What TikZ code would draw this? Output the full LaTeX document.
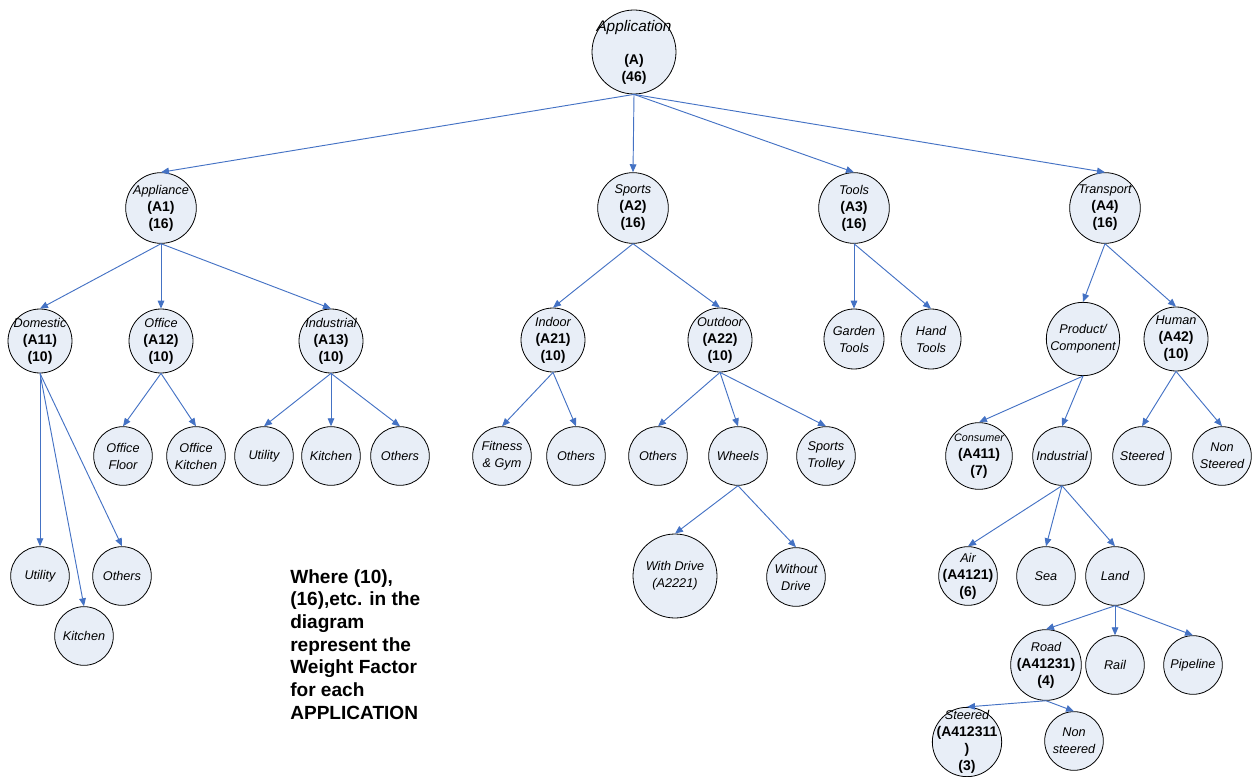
\documentclass[tikz,border=0pt]{standalone}
\usepackage{fontspec}
\setmainfont{Liberation Sans}
\usetikzlibrary{arrows.meta}
\definecolor{link}{HTML}{4472C4}
\definecolor{pale}{HTML}{E8EEF7}
\newcommand\wt[1]{{\upshape\bfseries\fontsize{10.5}{12.75}\selectfont #1}}
\begin{document}
\begin{tikzpicture}[x=0.75pt,y=-0.75pt,>={Triangle[length=6pt,width=5pt]},
 n/.style={circle,draw=black,fill=pale,line width=.6pt,inner sep=0pt,minimum size=#1},n/.default=44pt,
 t/.style={align=center,font=\fontsize{9.5}{12.75}\selectfont\itshape},
 a/.style={->,draw=link,line width=.7pt},
 note/.style={align=left,inner sep=0pt,font=\fontsize{14.3}{17}\selectfont\bfseries}]
\useasboundingbox (0,0) rectangle (1253,777);
% root and first level
\node[n=63pt,label={[t]center:{\fontsize{11.5}{12.75}\selectfont Application}\\[12pt]\wt{(A)}\\\wt{(46)}}] (app) at (634,52) {};
\node[n=53pt,label={[t]center:Appliance\\\wt{(A1)}\\\wt{(16)}}] (a1) at (161,208) {};
\node[n=53pt,label={[t]center:Sports\\\wt{(A2)}\\\wt{(16)}}] (a2) at (633,208) {};
\node[n=53pt,label={[t]center:Tools\\\wt{(A3)}\\\wt{(16)}}] (a3) at (854,208) {};
\node[n=53pt,label={[t]center:Transport\\\wt{(A4)}\\\wt{(16)}}] (a4) at (1105,208) {};
% second level
\node[n=48pt,label={[t]center:Domestic\\\wt{(A11)}\\\wt{(10)}}] (a11) at (40,341) {};
\node[n=48pt,label={[t]center:Office\\\wt{(A12)}\\\wt{(10)}}] (a12) at (161,341) {};
\node[n=48pt,label={[t]center:Industrial\\\wt{(A13)}\\\wt{(10)}}] (a13) at (331,341) {};
\node[n=48pt,label={[t]center:Indoor\\\wt{(A21)}\\\wt{(10)}}] (a21) at (553,340) {};
\node[n=48pt,label={[t]center:Outdoor\\\wt{(A22)}\\\wt{(10)}}] (a22) at (720,340) {};
\node[n=45pt,label={[t]center:Garden\\Tools}] (garden) at (854,339) {};
\node[n=45pt,label={[t]center:Hand\\Tools}] (hand) at (931,339) {};
\node[n=55pt,label={[t]center:Product/\\Component}] (prod) at (1083,339) {};
\node[n=48pt,label={[t]center:Human\\\wt{(A42)}\\\wt{(10)}}] (a42) at (1176,339) {};
% third level
\node[n,label={[t]center:Office\\Floor}] (ofloor) at (123,456) {};
\node[n,label={[t]center:Office\\Kitchen}] (okit) at (196,456) {};
\node[n,label={[t]center:Utility}] (iutil) at (264,456) {};
\node[n,label={[t]center:Kitchen}] (ikit) at (331,456) {};
\node[n,label={[t]center:Others}] (ioth) at (400,456) {};
\node[n,label={[t]center:Fitness\\\& Gym}] (fit) at (502,456) {};
\node[n,label={[t]center:Others}] (inoth) at (576,456) {};
\node[n,label={[t]center:Others}] (outoth) at (658,456) {};
\node[n,label={[t]center:Wheels}] (wheels) at (738,456) {};
\node[n,label={[t]center:Sports\\Trolley}] (trolley) at (826,456) {};
\node[n=50pt,label={[t]center:{\fontsize{8.1}{12.75}\selectfont Consumer}\\\wt{(A411)}\\\wt{(7)}}] (a411) at (979,456) {};
\node[n,label={[t]center:Industrial}] (tind) at (1062,456) {};
\node[n,label={[t]center:Steered}] (hst) at (1142,456) {};
\node[n,label={[t]center:Non\\Steered}] (hnst) at (1222,456) {};
% lower levels
\node[n,label={[t]center:Utility}] (dutil) at (40,576) {};
\node[n,label={[t]center:Others}] (doth) at (122,576) {};
\node[n,label={[t]center:Kitchen}] (dkit) at (84,636) {};
\node[n=63pt,label={[t]center:With Drive\\(A2221)}] (a2221) at (675,576) {};
\node[n,label={[t]center:Without\\Drive}] (nodrive) at (796,577) {};
\node[n,label={[t]center:Air\\\wt{(A4121)}\\\wt{(6)}}] (a4121) at (968,576) {};
\node[n,label={[t]center:Sea}] (sea) at (1046,576) {};
\node[n,label={[t]center:Land}] (land) at (1115,576) {};
\node[n=53pt,label={[t]center:Road\\\wt{(A41231)}\\\wt{(4)}}] (a41231) at (1046,665) {};
\node[n,label={[t]center:Rail}] (rail) at (1115,665) {};
\node[n,label={[t]center:Pipeline}] (pipe) at (1193,665) {};
\node[n=52pt,label={[t]center:Steered\\\wt{(A412311}\\\wt{)}\\\wt{(3)}}] (a412311) at (967,742) {};
\node[n,label={[t]center:Non\\steered}] (rnst) at (1074,741) {};
\node[note,anchor=north west] (note) at (290,569) {Where (10),\\(16),etc. in the\\diagram\\represent the\\Weight Factor\\for each\\APPLICATION};
% connectors
\foreach \c in {a1,a2,a3,a4} \draw[a] (app.south)--(\c.north);
\draw[a] (a1.south)--(a11.north);\draw[a] (a1.south)--(a12.north);\draw[a] (a1.south)--(a13.north);
\draw[a] (a2.south)--(a21.north);\draw[a] (a2.south)--(a22.north);
\draw[a] (a3.south)--(garden.north);\draw[a] (a3.south)--(hand.north);
\draw[a] (a4.south)--(prod.north);\draw[a] (a4.south)--(a42.north);
\draw[a] (a11.south)--(dutil.north);\draw[a] (a11.south)--(dkit.north);\draw[a] (a11.south)--(doth.north);
\draw[a] (a12.south)--(ofloor.north);\draw[a] (a12.south)--(okit.north);
\draw[a] (a13.south)--(iutil.north);\draw[a] (a13.south)--(ikit.north);\draw[a] (a13.south)--(ioth.north);
\draw[a] (a21.south)--(fit.north);\draw[a] (a21.south)--(inoth.north);
\draw[a] (a22.south)--(outoth.north);\draw[a] (a22.south)--(wheels.north);\draw[a] (a22.south)--(trolley.north);
\draw[a] (wheels.south)--(a2221.north);\draw[a] (wheels.south)--(nodrive.north);
\draw[a] (prod.south)--(a411.north);\draw[a] (prod.south)--(tind.north);
\draw[a] (a42.south)--(hst.north);\draw[a] (a42.south)--(hnst.north);
\draw[a] (tind.south)--(a4121.north);\draw[a] (tind.south)--(sea.north);\draw[a] (tind.south)--(land.north);
\draw[a] (land.south)--(a41231.north);\draw[a] (land.south)--(rail.north);\draw[a] (land.south)--(pipe.north);
\draw[a] (a41231.south)--(a412311.north);\draw[a] (a41231.south)--(rnst.north);
\end{tikzpicture}
\end{document}
